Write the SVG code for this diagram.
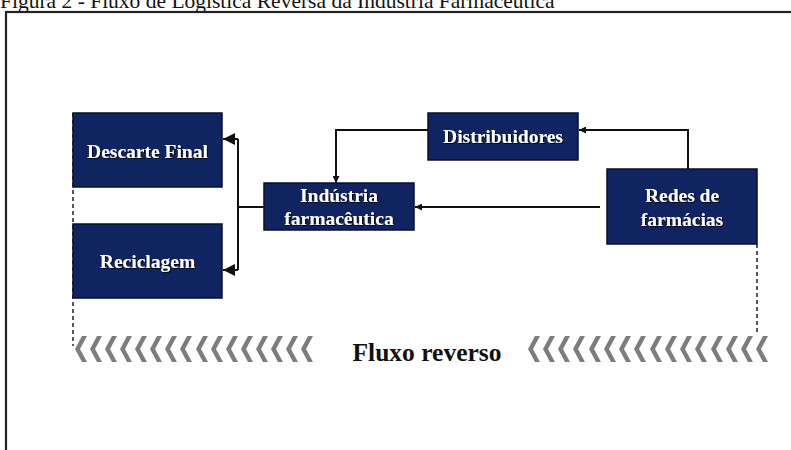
<svg xmlns="http://www.w3.org/2000/svg" width="791" height="450" viewBox="0 0 791 450">
<style>
.box{fill:#0f2460;stroke:#0a0f2a;stroke-width:1.5}
.lbl{font-family:"Liberation Serif","Times New Roman",serif;font-weight:bold;font-size:19.5px;fill:#ffffff;text-anchor:middle;filter:url(#sh)}
.ln{fill:none;stroke:#111;stroke-width:2}
.dash{fill:none;stroke:#222;stroke-width:1.5;stroke-dasharray:4 3}
.chev{fill:#7d7d7d}
</style>
<defs>
<filter id="sh" x="-10%" y="-20%" width="130%" height="150%">
<feDropShadow dx="1" dy="1" stdDeviation="0.7" flood-color="#000" flood-opacity="0.9"/>
</filter>
<polygon id="chev" points="0,13 7,0 12,0 5,13 12,26 7,26"/>
<marker id="ah" viewBox="0 0 10 10" refX="10" refY="5" markerWidth="8" markerHeight="7" markerUnits="userSpaceOnUse" orient="auto">
<path d="M0,0 L10,5 L0,10 Z" fill="#111"/>
</marker>
<marker id="ahb" viewBox="0 0 10 10" refX="10" refY="5" markerWidth="14" markerHeight="12" markerUnits="userSpaceOnUse" orient="auto">
<path d="M0,0 L10,5 L0,10 Z" fill="#111"/>
</marker>
</defs>
<rect width="791" height="450" fill="#ffffff"/>
<text x="0" y="8" font-family="Liberation Serif,'Times New Roman',serif" font-size="21.5" fill="#111">Figura 2 - Fluxo de Logística Reversa da Indústria Farmacêutica</text>
<rect x="6" y="12" width="800" height="460" fill="none" stroke="#222" stroke-width="2.2"/>

<g id="connectors">
<line class="dash" x1="73" y1="113" x2="73" y2="346"/>
<line class="dash" x1="757" y1="244" x2="757" y2="334"/>
<polyline class="ln" points="688,169 688,130 579,130" marker-end="url(#ah)"/>
<polyline class="ln" points="428,130 336,130 336,183" marker-end="url(#ah)"/>
<line class="ln" x1="600" y1="207" x2="415" y2="207" marker-end="url(#ah)"/>
<line class="ln" x1="264" y1="207" x2="238" y2="207"/>
<line class="ln" x1="238" y1="139" x2="238" y2="270"/>
<line class="ln" x1="238" y1="139" x2="223" y2="139" marker-end="url(#ahb)"/>
<line class="ln" x1="238" y1="270" x2="223" y2="270" marker-end="url(#ahb)"/>
</g>

<g id="descarte">
<rect class="box" x="73" y="113" width="149" height="74"/>
<text class="lbl" x="147.5" y="158">Descarte Final</text>
</g>
<g id="reciclagem">
<rect class="box" x="73" y="224" width="149" height="74"/>
<text class="lbl" x="147.5" y="268">Reciclagem</text>
</g>
<g id="industria">
<rect class="box" x="264" y="183" width="150" height="47"/>
<text class="lbl" x="339" y="202">Indústria</text>
<text class="lbl" x="339" y="225">farmacêutica</text>
</g>
<g id="distribuidores">
<rect class="box" x="428" y="113" width="150" height="47"/>
<text class="lbl" x="503" y="143">Distribuidores</text>
</g>
<g id="redes">
<rect class="box" x="607" y="169" width="150" height="75"/>
<text class="lbl" x="682" y="202">Redes de</text>
<text class="lbl" x="682" y="226">farmácias</text>
</g>

<g id="fluxo">
<g class="chev">
<use href="#chev" x="75" y="336"/><use href="#chev" x="90" y="336"/><use href="#chev" x="105" y="336"/><use href="#chev" x="120" y="336"/>
<use href="#chev" x="135" y="336"/><use href="#chev" x="150" y="336"/><use href="#chev" x="165" y="336"/><use href="#chev" x="180" y="336"/>
<use href="#chev" x="196" y="336"/><use href="#chev" x="211" y="336"/><use href="#chev" x="226" y="336"/><use href="#chev" x="241" y="336"/>
<use href="#chev" x="256" y="336"/><use href="#chev" x="271" y="336"/><use href="#chev" x="286" y="336"/><use href="#chev" x="301" y="336"/>
<use href="#chev" x="528" y="336"/><use href="#chev" x="543" y="336"/><use href="#chev" x="558" y="336"/><use href="#chev" x="573" y="336"/>
<use href="#chev" x="589" y="336"/><use href="#chev" x="604" y="336"/><use href="#chev" x="619" y="336"/><use href="#chev" x="634" y="336"/>
<use href="#chev" x="650" y="336"/><use href="#chev" x="665" y="336"/><use href="#chev" x="680" y="336"/><use href="#chev" x="695" y="336"/>
<use href="#chev" x="711" y="336"/><use href="#chev" x="726" y="336"/><use href="#chev" x="741" y="336"/><use href="#chev" x="756" y="336"/>
</g>
<text x="427" y="361" font-family="Liberation Serif,'Times New Roman',serif" font-weight="bold" font-size="25.5" fill="#111" text-anchor="middle">Fluxo reverso</text>
</g>
</svg>
